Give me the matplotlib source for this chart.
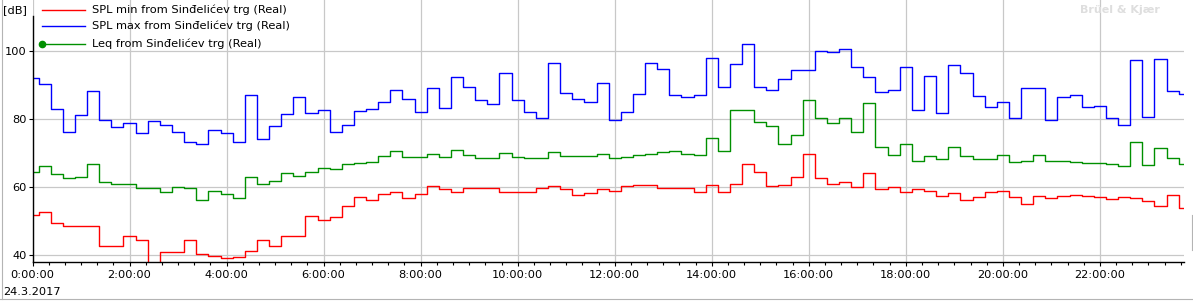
import numpy as np
import matplotlib.pyplot as plt
from matplotlib.lines import Line2D
from matplotlib.ticker import FixedLocator, MultipleLocator


W, H = 1193, 301

# 15 minute values, 0:00 .. 23:45
spl_min = [51.8, 52.6, 49.4, 48.5, 48.5, 48.5, 42.6, 42.6, 45.6, 44.4, 36.0, 41.0,
           41.0, 44.4, 40.3, 39.7, 39.1, 39.5, 41.4, 44.4, 42.6, 45.6, 45.6, 51.4,
           50.5, 51.1, 54.4, 57.0, 56.1, 57.9, 58.5, 56.7, 57.9, 60.2, 59.3, 58.5,
           59.6, 59.6, 59.6, 58.5, 58.5, 58.5, 59.6, 60.2, 59.3, 57.6, 58.2, 59.3,
           59.0, 60.2, 60.5, 60.5, 59.6, 59.6, 59.6, 58.7, 60.5, 58.5, 60.8, 66.7,
           64.3, 60.2, 60.5, 63.0, 69.6, 62.6, 60.8, 61.4, 59.9, 64.0, 59.3, 59.9,
           58.5, 59.3, 59.0, 57.3, 58.2, 56.1, 57.0, 58.5, 59.0, 57.0, 54.9, 57.3,
           56.7, 57.3, 57.6, 57.3, 57.0, 56.4, 57.0, 56.7, 55.8, 54.6, 57.6, 54.0]
spl_max = [91.9, 90.1, 82.8, 76.3, 81.0, 88.1, 79.7, 77.5, 78.7, 75.8, 79.3, 78.1,
           76.1, 73.1, 72.5, 76.7, 75.8, 73.1, 86.9, 74.0, 77.8, 81.3, 86.3, 81.6,
           82.5, 76.3, 78.1, 82.2, 82.8, 84.9, 88.4, 85.7, 81.9, 89.2, 83.1, 92.2,
           89.5, 85.4, 84.3, 93.4, 85.4, 81.9, 80.2, 96.3, 87.5, 85.7, 85.1, 90.4,
           79.6, 81.9, 87.2, 96.3, 94.5, 86.9, 86.3, 86.9, 98.0, 89.5, 96.0, 101.9,
           89.5, 88.4, 91.6, 94.2, 94.2, 99.8, 99.5, 100.4, 95.1, 92.2, 87.8, 88.4,
           95.1, 82.5, 92.5, 81.6, 95.7, 93.4, 86.6, 83.4, 85.1, 80.4, 89.0, 89.0,
           79.6, 86.3, 86.9, 83.4, 83.7, 80.4, 78.1, 97.2, 80.7, 97.5, 88.1, 87.2]
leq = [64.5, 66.1, 63.7, 62.6, 63.0, 66.7, 61.6, 60.8, 60.8, 59.7, 59.7, 58.7,
       60.0, 59.6, 56.1, 59.0, 58.0, 56.7, 63.1, 61.0, 61.7, 64.0, 63.2, 64.3,
       65.5, 65.2, 66.7, 67.0, 67.5, 69.0, 70.5, 68.7, 68.7, 69.6, 68.7, 70.8,
       69.3, 68.4, 68.4, 69.9, 68.7, 68.4, 68.4, 70.2, 69.0, 69.0, 69.0, 69.6,
       68.4, 68.7, 69.3, 69.6, 70.2, 70.5, 69.6, 69.3, 74.3, 70.5, 82.5, 82.5,
       79.1, 77.8, 72.5, 75.2, 85.4, 80.4, 78.7, 80.4, 76.1, 84.8, 71.7, 69.3,
       72.5, 67.8, 69.0, 68.1, 71.9, 69.0, 68.1, 68.1, 69.3, 67.3, 67.8, 69.3,
       67.8, 67.8, 67.3, 67.0, 67.0, 66.7, 66.1, 73.1, 66.4, 71.4, 68.4, 66.7]

series_labels = ['SPL min from Sinđelićev trg (Real)',
                 'SPL max from Sinđelićev trg (Real)',
                 'Leq from Sinđelićev trg (Real)']
series_colors = ['#ff0000', '#0000ff', '#009000']
y_ticks = [40, 60, 80, 100]
x_major = list(range(0, 24, 2))
x_labels = ['%d:00:00' % h for h in x_major]
date_label = '24.3.2017'

GRID = '#c8c8c8'
FRAME = '#b4b4b4'


def fx(x):
    return x / W


def fy(y):
    return 1 - y / H


def main() -> None:
    plt.rcParams['font.family'] = ['DejaVu Sans']
    fig = plt.figure(figsize=(W / 100, H / 100), dpi=100)
    ax = fig.add_axes([fx(32.5), fy(262.3), fx(1184.3) - fx(32.5), fy(0) - fy(262.3)])

    hours = np.arange(len(spl_min)) * 0.25
    for vals, col in zip([spl_min, spl_max, leq], series_colors):
        ax.step(hours, vals, where='mid', color=col, linewidth=1.0)

    ax.set_xlim(0, 23.74)
    ax.set_ylim(37.95, 114.87)

    ax.xaxis.set_major_locator(FixedLocator(x_major))
    ax.set_xticklabels(x_labels)
    ax.xaxis.set_minor_locator(MultipleLocator(1 / 3))
    ax.set_yticks(y_ticks)
    ax.set_yticklabels([str(v) for v in y_ticks])

    ax.grid(True, which='major', color=GRID, linewidth=0.9)
    ax.set_axisbelow(True)

    ax.tick_params(axis='x', which='major', length=3.0, width=0.8, pad=2.5, labelsize=8.2)
    ax.tick_params(axis='x', which='minor', length=1.8, width=0.8)
    ax.tick_params(axis='y', which='major', length=3.0, width=0.8, pad=1, labelsize=8.2)

    for s in ['top', 'right']:
        ax.spines[s].set_visible(False)
    ax.spines['bottom'].set_linewidth(1.0)
    ax.spines['left'].set_linewidth(1.0)
    ax.spines['left'].set_bounds(37.95, 110.2)

    # legend drawn by hand at the top left
    rows = [9.5, 26.0, 44.0]
    for i, (lab, col) in enumerate(zip(series_labels, series_colors)):
        ln = Line2D([fx(42), fx(85)], [fy(rows[i])] * 2, color=col, linewidth=1.0,
                    transform=fig.transFigure)
        if i == 2:
            ln.set_marker('o')
            ln.set_markersize(4.5)
            ln.set_markevery([0])
        fig.add_artist(ln)
        fig.text(fx(92), fy(rows[i]), lab, fontsize=8.2, va='center', ha='left')

    fig.text(fx(3), fy(10), '[dB]', fontsize=8.2, va='center', ha='left')
    fig.text(fx(3), fy(292), date_label, fontsize=8.2, va='center', ha='left')
    fig.text(fx(1080), fy(10), 'Brüel & Kjær', fontsize=8, fontweight='bold',
             color='#dedede', va='center', ha='left')

    # thin frame bits of the original window
    fig.add_artist(Line2D([fx(1.5), fx(1.5)], [fy(0), fy(299)], color=FRAME,
                          linewidth=0.8, transform=fig.transFigure))
    fig.add_artist(Line2D([0, 1], [fy(299), fy(299)], color=FRAME,
                          linewidth=0.8, transform=fig.transFigure))
    fig.add_artist(Line2D([fx(1191.5), fx(1191.5)], [fy(215), fy(250)], color=FRAME,
                          linewidth=0.8, transform=fig.transFigure))

    fig.savefig('out.png', dpi=100)


if __name__ == '__main__':
    main()
